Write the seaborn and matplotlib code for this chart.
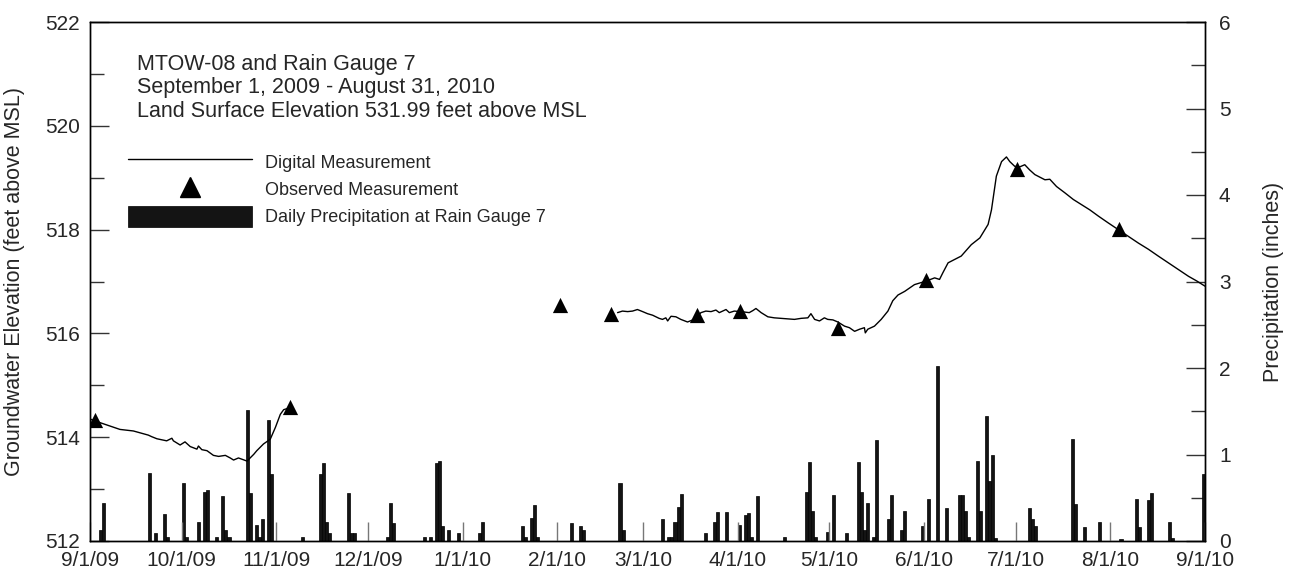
import pandas as pd
import matplotlib
matplotlib.use('Agg')
import matplotlib.pyplot as plt
from matplotlib.lines import Line2D
from matplotlib.patches import Patch
from matplotlib.ticker import MultipleLocator
import seaborn as sns

sns.set_style('ticks')
plt.rcParams['font.family'] = ['Liberation Sans', 'DejaVu Sans']

# ------------------------------------------------------------
# data (days counted from 9/1/09)
# ------------------------------------------------------------
start = pd.Timestamp('2009-09-01')

# digital record, part 1 (fall 2009)
dig1_day = [0, 3.3, 9.8, 14.2, 19.1, 20.2, 21.9, 25.1, 26.8, 27.3, 29.5, 31.1, 32.8,
            35, 35.5, 36.6, 38.3, 40.4, 42.1, 44.3, 45.9, 47, 48.6, 51.4, 53.6,
            54.6, 56.8, 59, 60.7, 62.3, 63.4, 65.5]
dig1_elev = [514.35, 514.28, 514.15, 514.12, 514.04, 514.01, 513.97, 513.93, 513.98,
             513.93, 513.85, 513.91, 513.82, 513.77, 513.83, 513.76, 513.74, 513.65,
             513.63, 513.65, 513.60, 513.56, 513.60, 513.54, 513.67, 513.74, 513.87,
             513.96, 514.19, 514.44, 514.53, 514.57]

# digital record, part 2 (spring / summer 2010)
dig2_day = [172.7, 174.3, 176, 177.6, 179.2, 180.9, 182.5, 184.2, 186.3, 187.4, 188.5,
            189.1, 190.2, 191.8, 193.4, 195.6, 197.8, 200, 201.6, 203.3, 204.9, 206,
            208.2, 209.3, 210.9, 213.1, 215.8, 217, 218, 219.7, 221.9, 224, 226.2,
            228.4, 230.6, 232.8, 235, 236, 237.2, 238.8, 240.4, 241.5, 243.2, 244.8,
            247, 248.6, 250.3, 251.9, 253.5, 253.8, 254.6, 255.7, 256.8, 259, 261.2,
            262.8, 264.5, 266.7, 269.9, 273.8, 276.5, 278.1, 279.2, 280.9, 285.2,
            288.5, 291.3, 294, 295.1, 296.7, 298.4, 300, 301.1, 302.7, 304.4, 306,
            307.6, 309.3, 312.6, 314.2, 316.4, 319.1, 321.9, 324.6, 327.3, 330.1,
            333.3, 336.6, 339.9, 343.2, 346.5, 349.7, 353, 356.3, 359.6, 362.3, 365]
dig2_elev = [516.40, 516.43, 516.42, 516.43, 516.46, 516.42, 516.38, 516.35, 516.29,
             516.27, 516.30, 516.24, 516.33, 516.32, 516.27, 516.22, 516.27, 516.40,
             516.43, 516.42, 516.45, 516.40, 516.46, 516.40, 516.43, 516.42, 516.40,
             516.44, 516.48, 516.40, 516.32, 516.30, 516.29, 516.28, 516.27, 516.29,
             516.30, 516.38, 516.27, 516.24, 516.30, 516.27, 516.26, 516.22, 516.14,
             516.11, 516.04, 516.08, 516.11, 516.01, 516.08, 516.11, 516.14, 516.27,
             516.43, 516.63, 516.74, 516.81, 516.94, 517.01, 517.07, 517.04, 517.17,
             517.36, 517.49, 517.71, 517.84, 518.10, 518.38, 519.03, 519.31, 519.40,
             519.31, 519.22, 519.21, 519.25, 519.15, 519.06, 518.96, 518.97, 518.83,
             518.71, 518.58, 518.48, 518.38, 518.26, 518.13, 518.00, 517.87, 517.74,
             517.62, 517.49, 517.36, 517.23, 517.10, 517.01, 516.91]

# observed (hand) measurements
obs_day = [1.5, 65.5, 153.8, 170.5, 198.7, 212.9, 244.8, 273.6, 303.6, 336.8]
obs_elev = [514.33, 514.58, 516.55, 516.37, 516.35, 516.43, 516.10, 517.02, 519.16, 518.01]

# daily precipitation at rain gauge 7 (inches)
rain_day = [3, 4, 19, 21, 24, 25, 30, 31, 35, 37, 38, 41, 43, 44, 45, 51, 52, 54, 55,
            56, 58, 59, 69, 75, 76, 77, 78, 84, 85, 86, 97, 98, 99, 109, 111, 113, 114,
            115, 117, 120, 127, 128, 141, 142, 144, 145, 146, 157, 160, 161, 173, 174,
            187, 189, 190, 191, 192, 193, 201, 204, 205, 208, 212, 214, 215, 216, 218,
            227, 234, 235, 236, 237, 241, 243, 247, 251, 252, 253, 254, 256, 257, 261,
            262, 265, 266, 272, 274, 277, 280, 284, 285, 286, 287, 290, 291, 293, 294,
            295, 296, 307, 308, 309, 321, 322, 325, 330, 337, 342, 343, 346, 347, 353,
            354, 364]
rain_in = [0.13, 0.44, 0.79, 0.09, 0.31, 0.05, 0.67, 0.05, 0.22, 0.57, 0.59, 0.05, 0.52,
           0.13, 0.05, 1.52, 0.56, 0.18, 0.05, 0.26, 1.40, 0.77, 0.05, 0.77, 0.90, 0.22,
           0.09, 0.56, 0.09, 0.09, 0.05, 0.44, 0.21, 0.05, 0.05, 0.90, 0.93, 0.17, 0.13,
           0.09, 0.09, 0.22, 0.17, 0.05, 0.27, 0.42, 0.05, 0.21, 0.17, 0.13, 0.67, 0.13,
           0.26, 0.05, 0.05, 0.22, 0.39, 0.54, 0.09, 0.22, 0.33, 0.34, 0.18, 0.30, 0.32,
           0.05, 0.52, 0.05, 0.57, 0.91, 0.35, 0.05, 0.10, 0.53, 0.09, 0.91, 0.57, 0.13,
           0.44, 0.05, 1.17, 0.26, 0.53, 0.13, 0.35, 0.17, 0.48, 2.02, 0.38, 0.53, 0.53,
           0.35, 0.05, 0.92, 0.35, 1.45, 0.69, 0.99, 0.04, 0.38, 0.25, 0.17, 1.18, 0.43,
           0.16, 0.22, 0.02, 0.48, 0.16, 0.47, 0.56, 0.22, 0.04, 0.78]

tick_labels = ['9/1/09', '10/1/09', '11/1/09', '12/1/09', '1/1/10', '2/1/10', '3/1/10',
               '4/1/10', '5/1/10', '6/1/10', '7/1/10', '8/1/10', '9/1/10']

title_lines = ['MTOW-08 and Rain Gauge 7',
               'September 1, 2009 - August 31, 2010',
               'Land Surface Elevation 531.99 feet above MSL']

# ------------------------------------------------------------
# tables
# ------------------------------------------------------------
def to_date(days):
    return start + pd.to_timedelta(pd.Series(days, dtype=float), unit='D')

dig = pd.concat([
    pd.DataFrame({'date': to_date(dig1_day), 'elev': dig1_elev, 'seg': 1}),
    pd.DataFrame({'date': to_date(dig2_day), 'elev': dig2_elev, 'seg': 2}),
], ignore_index=True)
obs = pd.DataFrame({'date': to_date(obs_day), 'elev': obs_elev})
rain = pd.DataFrame({'date': to_date(rain_day), 'precip': rain_in})
tick_dates = pd.date_range('2009-09-01', '2010-09-01', freq='MS')

# ------------------------------------------------------------
# figure
# ------------------------------------------------------------
fig = plt.figure(figsize=(12.91, 5.81), dpi=100)
ax = fig.add_axes([90 / 1291, 1 - 541 / 581, 1115 / 1291, 519 / 581])
ax2 = ax.twinx()

# precipitation bars (right axis)
ax2.bar(rain['date'], rain['precip'], width=1.0, align='edge',
        color='#141414', edgecolor='black', linewidth=0.5)
ax2.set_ylim(0, 6)
ax2.yaxis.set_major_locator(MultipleLocator(1))
ax2.yaxis.set_minor_locator(MultipleLocator(0.5))
ax2.set_ylabel('Precipitation (inches)', fontsize=15.5)
ax2.yaxis.set_label_coords(1.052, 0.5)

# groundwater (left axis), drawn above the bars
ax.set_zorder(ax2.get_zorder() + 1)
ax.patch.set_visible(False)
sns.lineplot(data=dig, x='date', y='elev', units='seg', estimator=None,
             color='black', linewidth=1.0, ax=ax)
sns.scatterplot(data=obs, x='date', y='elev', marker='^', s=120, color='black',
                edgecolor='black', linewidth=0, ax=ax, zorder=5)

ax.set_xlim(tick_dates[0], tick_dates[-1])
ax.set_ylim(512, 522)
ax.yaxis.set_major_locator(MultipleLocator(2))
ax.yaxis.set_minor_locator(MultipleLocator(1))
ax.set_xticks(tick_dates)
ax.set_xticklabels(tick_labels)
ax.set_xlabel('')
ax.set_ylabel('Groundwater Elevation (feet above MSL)', fontsize=15.5)
ax.yaxis.set_label_coords(-0.058, 0.5)

for a in (ax, ax2):
    a.tick_params(which='major', direction='in', length=14, width=1,
                  color='#333333', labelsize=15, pad=7)
    a.tick_params(which='minor', direction='in', length=10, width=1, color='#333333')
    for s in a.spines.values():
        s.set_color('black')
        s.set_linewidth(1)
ax.tick_params(axis='x', which='minor', length=0)
ax.tick_params(axis='x', color='#777777')
ax2.tick_params(axis='y', pad=10)

# title block
for i, line in enumerate(title_lines):
    ax.text(0.042, 0.918 - i * 0.045, line, transform=ax.transAxes,
            fontsize=15.5, ha='left', va='center')

# legend
handles = [Line2D([], [], color='black', linewidth=1),
           Line2D([], [], color='black', marker='^', markersize=15, linestyle='none'),
           Patch(facecolor='#141414', edgecolor='black', linewidth=0.5)]
labels = ['Digital Measurement', 'Observed Measurement',
          'Daily Precipitation at Rain Gauge 7']
ax.legend(handles, labels, loc='upper left', bbox_to_anchor=(0.034, 0.751),
          frameon=False, fontsize=13, handlelength=6.9, handleheight=1.4,
          handletextpad=0.72, labelspacing=0.36, borderpad=0, borderaxespad=0)

fig.savefig('out.png', dpi=100)
